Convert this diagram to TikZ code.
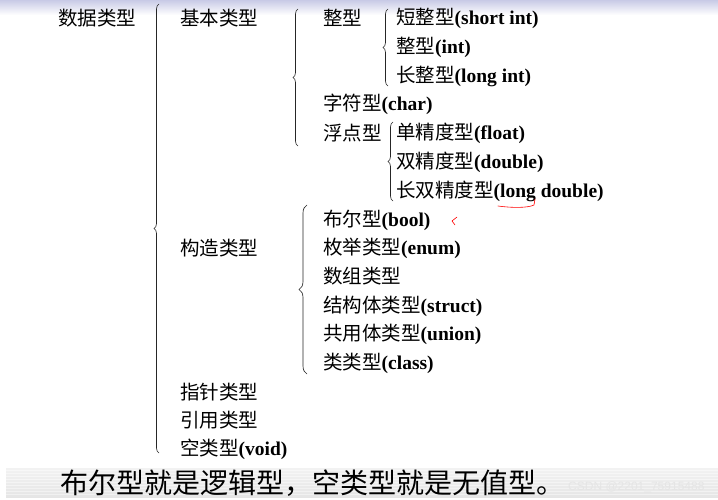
\documentclass[tikz,border=0pt]{standalone}
\usepackage{fontspec}
\setmainfont{Noto Sans CJK SC}
\newfontfamily\latinfont{Liberation Serif}
\newfontfamily\markfont{Liberation Sans}
\usetikzlibrary{decorations.pathreplacing}
\newcommand{\en}[1]{{\latinfont\bfseries #1}}
\definecolor{bandtop}{RGB}{200,202,230}

\begin{document}
\begin{tikzpicture}
        [x=1pt, y=-1pt,
        item/.style={anchor=west, inner sep=0pt, font=\fontsize{19.5}{20}\selectfont},
        note/.style={anchor=west, inner sep=0pt, font=\fontsize{28}{29}\selectfont},
        brace/.style={decorate, decoration={brace, amplitude=#1}, line width=0.65pt, black!85},
        brace/.default=5pt,
        remark/.style={red, line width=0.6pt, line cap=round}]

        % page and bands
        \fill[white] (0,0) rectangle (718,500);
        \useasboundingbox (0,0) rectangle (718,500);
        \shade[top color=bandtop, bottom color=white] (0,0) rectangle (718,15);
        \shade[top color=gray!10, middle color=gray!55, bottom color=gray!20] (6,468) rectangle (718,497);
        \foreach \y in {470,473,...,496}
            \draw[white, opacity=0.45, line width=0.8pt] (6,\y) -- (718,\y);

        % first level
        \node[item] (dtype) at (58,18) {数据类型};
        \node[item] (basic) at (180,18) {基本类型};
        \node[item] (built) at (180,248) {构造类型};
        \node[item] (ptr) at (180,392) {指针类型};
        \node[item] (ref) at (180,420) {引用类型};
        \node[item] (void) at (180,449) {空类型\en{(void)}};

        % basic types
        \node[item] (intg) at (323,18) {整型};
        \node[item] (char) at (323,104) {字符型\en{(char)}};
        \node[item] (flt) at (323,133) {浮点型};
        \node[item] (short) at (396,18) {短整型\en{(short int)}};
        \node[item] (int) at (396,47) {整型\en{(int)}};
        \node[item] (long) at (396,76) {长整型\en{(long int)}};
        \node[item] (single) at (396,133) {单精度型\en{(float)}};
        \node[item] (double) at (396,162) {双精度型\en{(double)}};
        \node[item] (ldouble) at (396,191) {长双精度型\en{(long double)}};

        % built types
        \node[item] (bool) at (323,220) {布尔型\en{(bool)}};
        \node[item] (enum) at (323,248) {枚举类型\en{(enum)}};
        \node[item] (array) at (323,276) {数组类型};
        \node[item] (struct) at (323,306) {结构体类型\en{(struct)}};
        \node[item] (union) at (323,334) {共用体类型\en{(union)}};
        \node[item] (class) at (323,363) {类类型\en{(class)}};

        % brace ends
        \coordinate (b1s) at (159,453);
        \coordinate (b1e) at (159,4);
        \coordinate (b2s) at (298,146);
        \coordinate (b2e) at (298,9);
        \coordinate (b3s) at (388,86);
        \coordinate (b3e) at (388,9);
        \coordinate (b4s) at (393,201);
        \coordinate (b4e) at (393,122);
        \coordinate (b5s) at (307,374);
        \coordinate (b5e) at (307,205);

        % braces
        \draw[brace] (b1s) -- (b1e);
        \draw[brace] (b2s) -- (b2e);
        \draw[brace] (b3s) -- (b3e);
        \draw[brace] (b4s) -- (b4e);
        \draw[brace=8pt] (b5s) -- (b5e);

        % red pen marks
        \draw[remark] (498,206) .. controls (512,208) and (528,208) .. (534,205) -- (535,199);
        \draw[remark] (457,217) -- (452,221) -- (455,225);

        % note at the bottom
        \node[note] (remark) at (60,483) {布尔型就是逻辑型，空类型就是无值型。};
        \node[anchor=west, inner sep=0pt, text=gray!20, font=\markfont\fontsize{12}{13}\selectfont] (mark) at (568,487) {CSDN @2201\_75915488};

    \end{tikzpicture}
\end{document}
